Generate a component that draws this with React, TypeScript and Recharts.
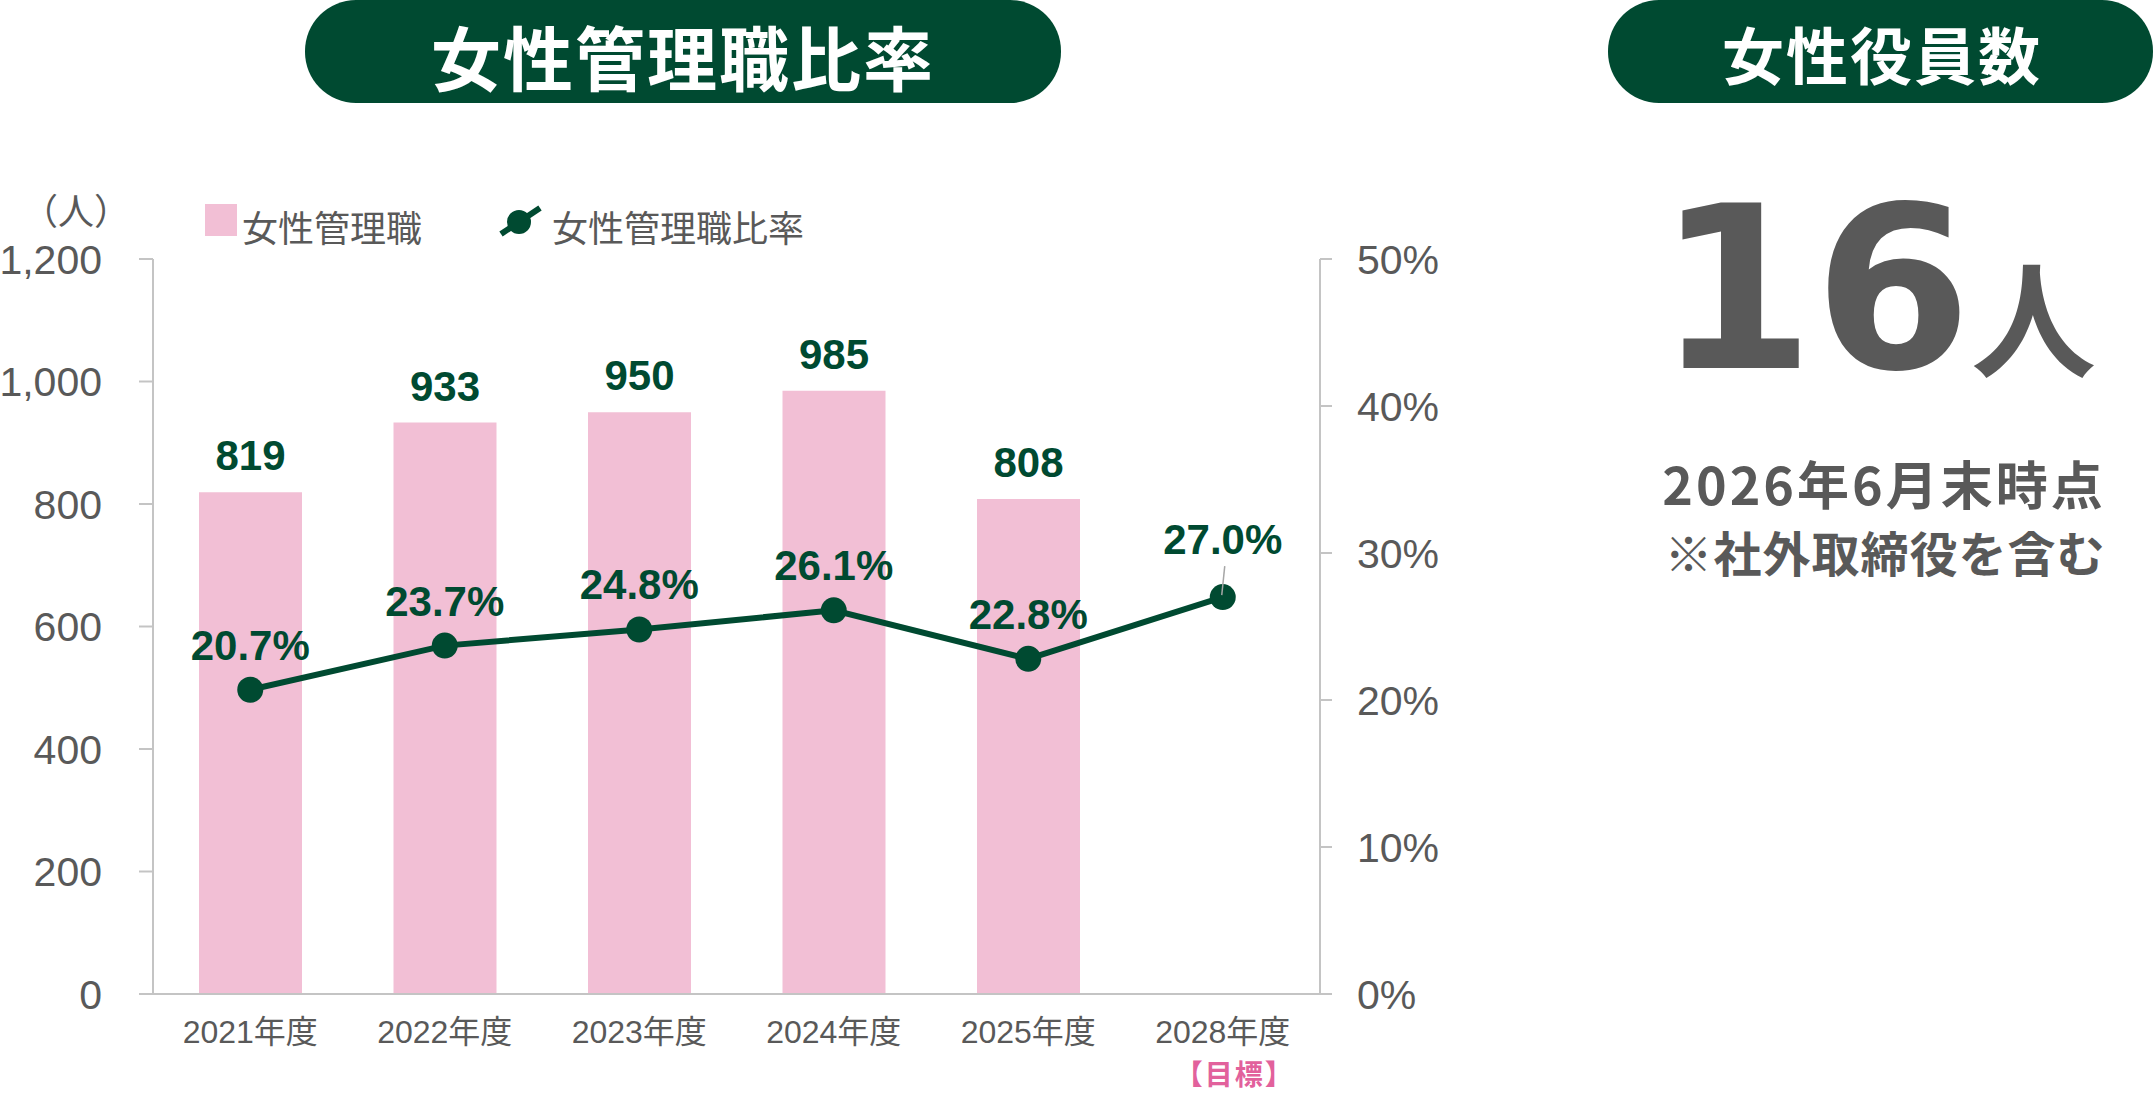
import React from "react";
import {
  Bar,
  ComposedChart,
  LabelList,
  Line,
  XAxis,
  YAxis,
} from "recharts";

const years = ["2021年度", "2022年度", "2023年度", "2024年度", "2025年度", "2028年度"];
const managerCounts = [819, 933, 950, 985, 808, null];
const managerRatios = [20.7, 23.7, 24.8, 26.1, 22.8, 27.0];
const countTicks = [0, 200, 400, 600, 800, 1000, 1200];
const ratioTicks = [0, 10, 20, 30, 40, 50];
const targetYear = "2028年度";
const targetNote = "【目標】";

const GREEN = "#004a31";
const PINK = "#f2bfd5";
const GRAY = "#595959";
const AXIS = "#c4c4c4";
const FONT = "'Liberation Sans', Arial, 'Noto Sans CJK JP', sans-serif";
const CJK = "'Noto Sans CJK JP', sans-serif";

const data = years.map((year, i) => ({
  year,
  count: managerCounts[i],
  ratio: managerRatios[i],
}));

// year label, plus the pink target note under the last one
function YearTick({ x, y, payload }: any) {
  const isTarget = payload.value === targetYear;
  return (
    <g>
      <text x={x} y={y + 49} textAnchor="middle" fill={GRAY} fontSize={32} fontFamily={FONT}>
        {payload.value}
      </text>
      {isTarget && (
        <text
          x={x + 12}
          y={y + 91}
          textAnchor="middle"
          fill="#e2619c"
          fontSize={28}
          fontWeight="bold"
          letterSpacing={2}
          fontFamily={CJK}
        >
          {targetNote}
        </text>
      )}
    </g>
  );
}

function CountLabel({ x, y, width, value }: any) {
  if (value == null) return null;
  return (
    <text
      x={x + width / 2}
      y={y - 22}
      textAnchor="middle"
      fill={GREEN}
      fontSize={42}
      fontWeight="bold"
      fontFamily={FONT}
    >
      {value}
    </text>
  );
}

function RatioLabel({ x, y, value, index }: any) {
  const last = index === managerRatios.length - 1;
  return (
    <g>
      {last && <line x1={x + 2} y1={y - 31} x2={x - 1} y2={y - 2} stroke="#a6a6a6" strokeWidth={1.5} />}
      <text
        x={x}
        y={last ? y - 43 : y - 30}
        textAnchor="middle"
        fill={GREEN}
        fontSize={42}
        fontWeight="bold"
        fontFamily={FONT}
      >
        {Number(value).toFixed(1)}%
      </text>
    </g>
  );
}

function Decorations() {
  return (
    <svg width={2154} height={1093} style={{ position: "absolute", left: 0, top: 0 }}>
      <rect x={305} y={0} width={756} height={103} rx={51} fill={GREEN} />
      <text
        x={683}
        y={55}
        textAnchor="middle"
        dominantBaseline="central"
        fill="#fff"
        fontSize={70}
        fontWeight="bold"
        letterSpacing={2}
        fontFamily={CJK}
      >
        女性管理職比率
      </text>
      <rect x={1608} y={0} width={545} height={103} rx={51} fill={GREEN} />
      <text
        x={1882}
        y={53}
        textAnchor="middle"
        dominantBaseline="central"
        fill="#fff"
        fontSize={62}
        fontWeight="bold"
        letterSpacing={2}
        fontFamily={CJK}
      >
        女性役員数
      </text>

      <text x={76} y={209} textAnchor="middle" dominantBaseline="central" fill={GRAY} fontSize={36} fontFamily={CJK}>
        （人）
      </text>
      <rect x={205} y={204} width={32} height={32} fill={PINK} />
      <text x={242} y={226} dominantBaseline="central" fill={GRAY} fontSize={36} fontFamily={CJK}>
        女性管理職
      </text>
      <line x1={501} y1={234} x2={540} y2={208} stroke={GREEN} strokeWidth={6} />
      <circle cx={519} cy={222} r={12} fill={GREEN} />
      <text x={552} y={226} dominantBaseline="central" fill={GRAY} fontSize={36} fontFamily={CJK}>
        女性管理職比率
      </text>

      <text x={1657} y={368} fill={GRAY} fontWeight="bold" fontSize={226} fontFamily="'DejaVu Sans', sans-serif">
        16
      </text>
      <text x={1971} y={368} fill={GRAY} fontWeight="bold" fontSize={125} fontFamily={CJK}>
        人
      </text>
      <text x={1884} y={482} textAnchor="middle" dominantBaseline="central" fill={GRAY} fontSize={52} fontWeight="bold" letterSpacing={3} fontFamily={CJK}>
        2026年6月末時点
      </text>
      <text x={1885} y={551} textAnchor="middle" dominantBaseline="central" fill={GRAY} fontSize={48} fontWeight="bold" letterSpacing={1} fontFamily={CJK}>
        ※社外取締役を含む
      </text>
    </svg>
  );
}

export default function App() {
  return (
    <div style={{ position: "absolute", left: 0, top: 0, width: 2154, height: 1093, background: "#fff" }}>
      <Decorations />
      <div style={{ position: "absolute", left: 0, top: 0 }}>
        <ComposedChart
          width={2154}
          height={1093}
          data={data}
          margin={{ top: 259, right: 714, bottom: 0, left: 0 }}
          barCategoryGap="23.5%"
        >
          <XAxis
            dataKey="year"
            height={99}
            axisLine={{ stroke: AXIS, strokeWidth: 2 }}
            tickLine={false}
            tickSize={0}
            tickMargin={0}
            tick={<YearTick />}
            interval={0}
          />
          <YAxis
            yAxisId="count"
            width={153}
            domain={[0, 1200]}
            ticks={countTicks}
            interval={0}
            axisLine={{ stroke: AXIS, strokeWidth: 2 }}
            tickLine={{ stroke: AXIS, strokeWidth: 2 }}
            tickSize={14}
            tickMargin={37}
            tick={{ fill: GRAY, fontSize: 41, fontFamily: FONT }}
            tickFormatter={(v: number) => v.toLocaleString("en-US")}
          />
          <YAxis
            yAxisId="ratio"
            orientation="right"
            width={120}
            domain={[0, 50]}
            ticks={ratioTicks}
            interval={0}
            axisLine={{ stroke: AXIS, strokeWidth: 2 }}
            tickLine={{ stroke: AXIS, strokeWidth: 2 }}
            tickSize={12}
            tickMargin={25}
            tick={{ fill: GRAY, fontSize: 41, fontFamily: FONT, textAnchor: "start" }}
            tickFormatter={(v: number) => `${v}%`}
          />
          <Bar yAxisId="count" dataKey="count" fill={PINK} barSize={103} isAnimationActive={false}>
            <LabelList dataKey="count" content={<CountLabel />} />
          </Bar>
          <Line
            yAxisId="ratio"
            dataKey="ratio"
            type="linear"
            stroke={GREEN}
            strokeWidth={6}
            dot={{ r: 13, fill: GREEN, stroke: "none" }}
            activeDot={false}
            isAnimationActive={false}
          >
            <LabelList dataKey="ratio" content={<RatioLabel />} />
          </Line>
        </ComposedChart>
      </div>
    </div>
  );
}
